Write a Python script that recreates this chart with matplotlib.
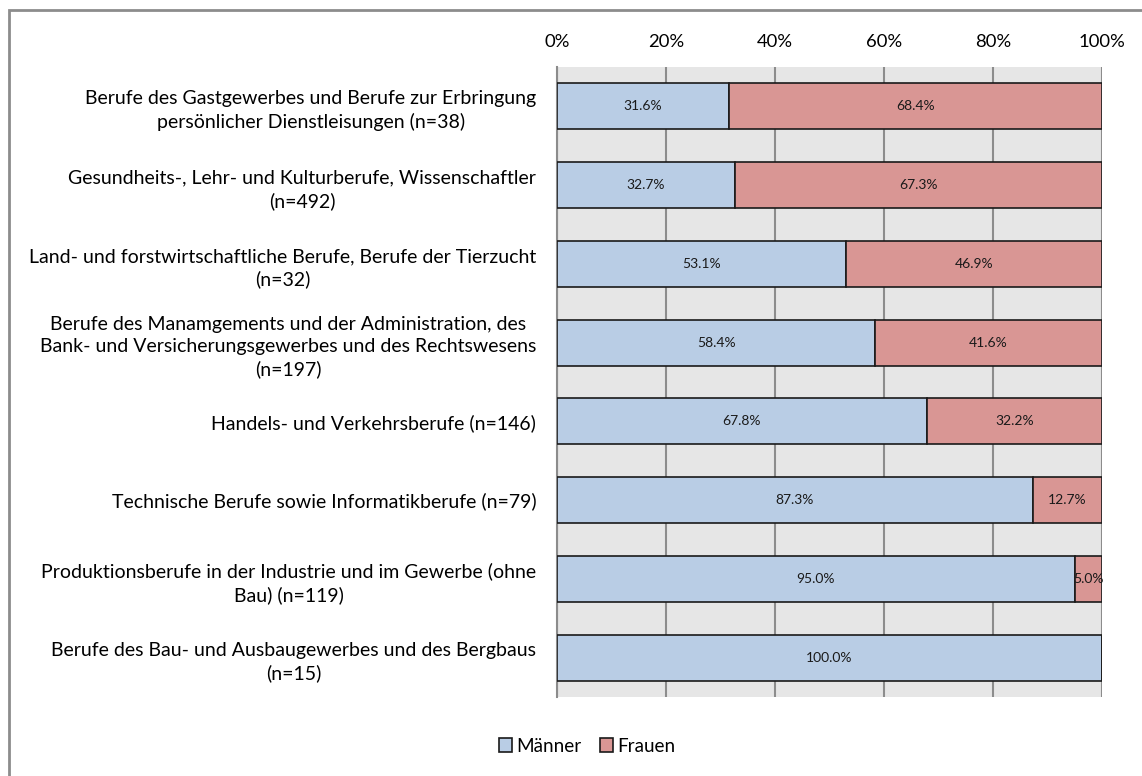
import matplotlib.pyplot as plt
import numpy as np
from matplotlib.patches import Rectangle

# Daten
kategorien = [
    "Berufe des Gastgewerbes und Berufe zur Erbringung\npersönlicher Dienstleisungen (n=38)",
    "Gesundheits-, Lehr- und Kulturberufe, Wissenschaftler\n(n=492)",
    "Land- und forstwirtschaftliche Berufe, Berufe der Tierzucht\n(n=32)",
    "Berufe des Manamgements und der Administration, des\nBank- und Versicherungsgewerbes und des Rechtswesens\n(n=197)",
    "Handels- und Verkehrsberufe (n=146)",
    "Technische Berufe sowie Informatikberufe (n=79)",
    "Produktionsberufe in der Industrie und im Gewerbe (ohne\nBau) (n=119)",
    "Berufe des Bau- und Ausbaugewerbes und des Bergbaus\n(n=15)",
]
maenner = [31.6, 32.7, 53.1, 58.4, 67.8, 87.3, 95.0, 100.0]
frauen = [68.4, 67.3, 46.9, 41.6, 32.2, 12.7, 5.0, 0.0]
x_ticks = [0, 20, 40, 60, 80, 100]

plt.rcParams['font.family'] = ['Lato', 'DejaVu Sans']

fig = plt.figure(figsize=(11.42, 7.76), dpi=100)
W, H = 1142, 776
ax = fig.add_axes([557 / W, 1 - 697 / H, (1102 - 557) / W, (697 - 67) / H])

# Rahmen um das Diagramm
fig.patches.append(Rectangle((8.5 / W, -0.05), 1.2, 1 - 10.5 / H + 0.05, transform=fig.transFigure,
                             fill=False, edgecolor='#8c8c8c', linewidth=2))

y = np.arange(len(kategorien))
h = 0.584
ax.set_facecolor('#e6e6e6')
b1 = ax.barh(y, maenner, height=h, color='#b9cde5', edgecolor='#1a1a1a', linewidth=1.2, label='Männer', zorder=3)
b2 = ax.barh(y, frauen, left=maenner, height=h, color='#d99694', edgecolor='#1a1a1a', linewidth=1.2, label='Frauen', zorder=3)

for i in range(len(kategorien)):
    if maenner[i] > 0:
        ax.text(maenner[i] / 2, y[i], f'{maenner[i]:.1f}%', ha='center', va='center', fontsize=10, color='#1a1a1a', zorder=4)
    if frauen[i] > 0:
        ax.text(maenner[i] + frauen[i] / 2, y[i], f'{frauen[i]:.1f}%', ha='center', va='center', fontsize=10, color='#1a1a1a', zorder=4)

ax.set_xlim(0, 100)
ax.set_ylim(len(kategorien) - 0.5, -0.5)
ax.set_xticks(x_ticks)
ax.set_xticklabels([f'{t}%' for t in x_ticks], fontsize=13.3)
ax.xaxis.tick_top()
ax.tick_params(axis='x', length=0, pad=12)
ax.set_yticks(y)
ax.set_yticklabels(kategorien, fontsize=14, multialignment='center', linespacing=1.38)
ax.tick_params(axis='y', length=0, pad=15)
ax.grid(axis='x', color='#8c8c8c', linewidth=1.5, zorder=1)
for s in ['top', 'bottom', 'right']:
    ax.spines[s].set_visible(False)
ax.spines['left'].set_color('#8c8c8c')
ax.spines['left'].set_linewidth(1.5)

fig.legend(handles=[b1, b2], loc='center', bbox_to_anchor=(587 / W, 1 - 746 / H), ncol=2, frameon=False,
           fontsize=13.6, handlelength=0.7, handleheight=0.7, handletextpad=0.2, columnspacing=1.0)

fig.savefig('out.png', dpi=100)
